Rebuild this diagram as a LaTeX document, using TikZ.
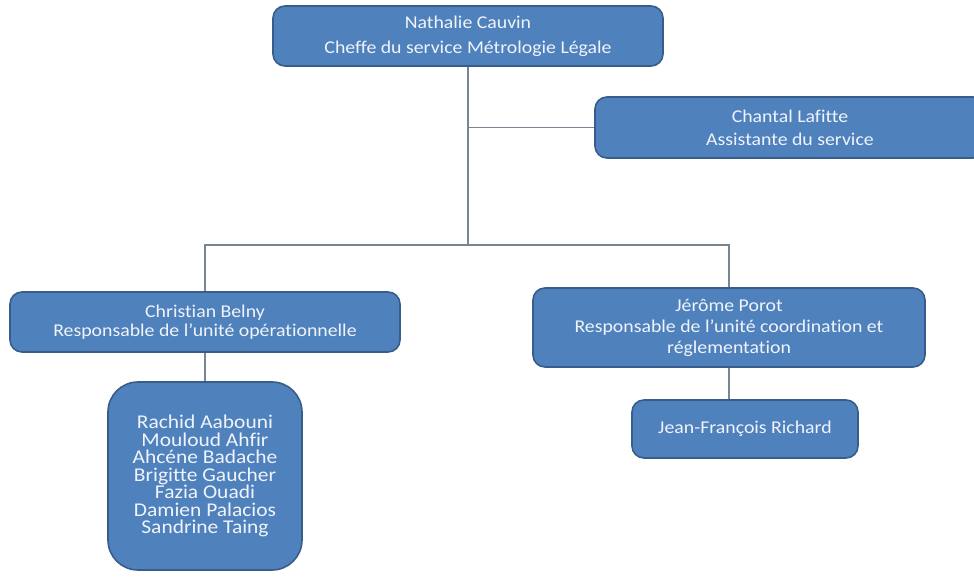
\documentclass[tikz,border=0pt]{standalone}
\usepackage{fontspec}
\setmainfont{Carlito}[FakeStretch=1.1,Ligatures={NoCommon}]
\definecolor{boxblue}{HTML}{4F81BD}
\definecolor{boxedge}{HTML}{385D8A}
\definecolor{boxtext}{HTML}{F0F4FA}
\definecolor{linegray}{HTML}{7A8594}
\begin{document}
\begin{tikzpicture}[x=1bp,y=-1bp,
	unit/.style={draw=boxedge,line width=1.6bp,fill=boxblue,text=boxtext,rounded corners=12bp,align=center,inner sep=0pt,minimum width=390bp,minimum height=60bp,font=\fontsize{18bp}{#1}\selectfont},
	unit/.default=22bp,
	link/.style={draw=linegray,line width=1.2bp}]
	\useasboundingbox (0,0) rectangle (974,584);
	\clip (0,0) rectangle (974,584);
	\node[unit=25bp] (chef) at (468,36) {Nathalie Cauvin\\Cheffe du service Métrologie Légale};
	\node[unit=23bp,minimum height=61bp] (assist) at (790,127.5) {Chantal Lafitte\\Assistante du service};
	\node[unit=19bp] (belny) at (205,322) {Christian Belny\\Responsable de l’unité opérationnelle};
	\node[unit=21bp,minimum width=392bp,minimum height=79bp] (porot) at (729,327.5) {Jérôme Porot\\Responsable de l’unité coordination et\\réglementation};
	\node[unit=17.5bp,rounded corners=30bp,minimum width=194bp,minimum height=188bp,font=\fontsize{19.5bp}{17.5bp}\selectfont] (equipe) at (205,476) {Rachid Aabouni\\Mouloud Ahfir\\Ahcéne Badache\\Brigitte Gaucher\\Fazia Ouadi\\Damien Palacios\\Sandrine Taing};
	\node[unit,minimum width=226bp,minimum height=58bp] (richard) at (745,429) {Jean-François Richard};
	\coordinate (bus) at (469,245);
	\draw[link] (chef.south) -- (chef.south |- bus);
	\draw[link] (chef.south |- assist.west) -- (assist.west);
	\draw[link] (belny.north) -- (belny.north |- bus) -- (porot.north |- bus) -- (porot.north);
	\draw[link] (belny.south) -- (equipe.north);
	\draw[link] (porot.south) -- (porot.south |- richard.north);
\end{tikzpicture}
\end{document}
